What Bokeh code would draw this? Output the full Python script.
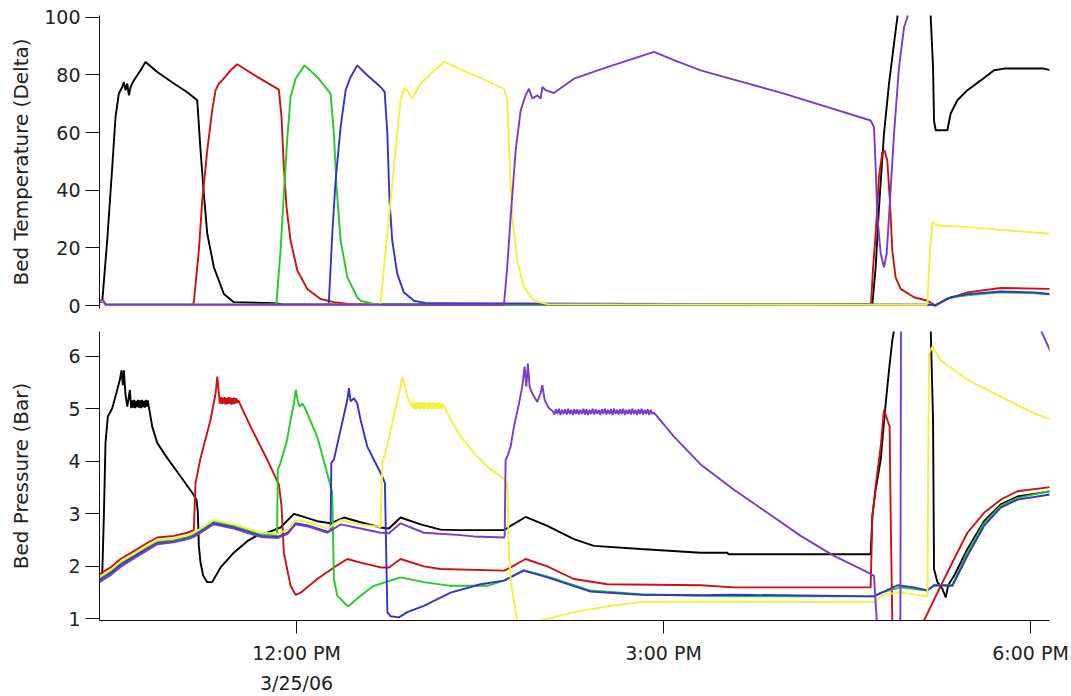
from bokeh.plotting import figure
from bokeh.layouts import column
from bokeh.models import Range1d, FixedTicker, LinearAxis
from bokeh.embed import file_html
from bokeh.resources import INLINE

# ---------------- data (time in decimal hours of 3/25/06) ----------------
x_ticks = [12, 15, 18]
x_tick_labels = {12: "12:00 PM", 15: "3:00 PM", 18: "6:00 PM"}
date_tick = [12]
date_label = {12: "3/25/06"}
temp_ticks = [0, 20, 40, 60, 80, 100]
pres_ticks = [1, 2, 3, 4, 5, 6]

# ---- Bed temperature (Delta) ----
black_temp_t = [10.389, 10.411, 10.452, 10.493, 10.520, 10.547, 10.575, 10.588, 10.602, 10.616,
                10.629, 10.643, 10.670, 10.725, 10.765, 10.861, 10.997, 11.106, 11.188, 11.215,
                11.242, 11.270, 11.324, 11.406, 11.487, 11.814, 11.900, 16.707, 16.734, 16.761,
                16.802, 16.843, 16.884, 16.912, 16.930, 17.180, 17.184, 17.203, 17.211, 17.225,
                17.320, 17.347, 17.402, 17.484, 17.593, 17.702, 17.783, 18.110, 18.165]
black_temp = [1.2, 1.2, 22.6, 48.0, 65.4, 73.5, 75.8, 77.5, 74.7, 77.0,
              72.9, 75.8, 78.1, 81.6, 84.5, 81.0, 77.0, 74.0, 71.2, 53.8,
              38.8, 24.9, 13.3, 4.0, 1.2, 0.8, 0.4, 0.4, 13.3, 34.0,
              59.6, 77.0, 90.9, 100.1, 140, 140, 100, 82.7, 64.0, 60.8,
              60.8, 66.6, 71.2, 74.7, 78.1, 81.6, 82.2, 82.2, 81.6]

red_temp_t = [10.389, 10.420, 10.440, 11.150, 11.160, 11.201, 11.229, 11.270, 11.310, 11.338,
              11.365, 11.392, 11.460, 11.515, 11.679, 11.855, 11.877, 11.896, 11.918, 11.951,
              12.006, 12.087, 12.196, 12.305, 12.442, 16.690, 16.697, 16.713, 16.734, 16.761,
              16.788, 16.807, 16.829, 16.850, 16.870, 16.897, 16.938, 17.047, 17.157, 17.225,
              17.320, 17.484, 17.756, 18.165]
red_temp = [1.5, 1.5, 0.3, 0.3, 1.2, 19.0, 36.5, 53.8, 67.7, 74.7,
            77.0, 78.1, 81.6, 83.7, 79.3, 74.9, 65.4, 48.0, 34.1, 22.6,
            12.2, 5.8, 2.3, 1.2, 0.5, 0.5, 1.2, 13.3, 25.0, 44.5,
            53.2, 53.8, 50.3, 36.5, 19.1, 9.8, 5.8, 2.9, 1.7, 0.0,
            2.3, 4.6, 6.1, 5.8]

green_temp_t = [10.389, 10.420, 10.440, 11.830, 11.836, 11.869, 11.896, 11.923, 11.951, 11.992,
                12.065, 12.169, 12.278, 12.305, 12.327, 12.360, 12.415, 12.496, 12.523, 12.630,
                17.200, 17.225, 17.320, 17.484, 17.756, 18.028, 18.165]
green_temp = [1.5, 1.5, 0.3, 0.3, 1.2, 19.1, 38.8, 57.3, 72.3, 78.7,
              83.3, 79.3, 73.5, 59.6, 41.1, 22.6, 9.8, 2.9, 1.7, 0.6,
              0.3, 0.0, 2.6, 3.6, 4.6, 4.3, 3.8]

blue_temp_t = [10.389, 10.420, 10.440, 12.260, 12.264, 12.292, 12.319, 12.360, 12.401, 12.442,
               12.496, 12.578, 12.687, 12.720, 12.742, 12.760, 12.782, 12.823, 12.877, 12.959,
               13.068, 17.200, 17.211, 17.347, 17.484, 17.756, 18.028, 18.165]
blue_temp = [1.5, 1.5, 0.3, 0.3, 1.2, 24.9, 43.4, 61.9, 74.7, 79.3,
             83.3, 79.9, 75.8, 74.1, 59.6, 36.5, 22.6, 11.0, 4.6, 1.7,
             0.8, 0.3, 0.0, 2.9, 4.0, 4.9, 4.6, 4.0]

yellow_temp_t = [10.389, 10.420, 10.440, 12.680, 12.687, 12.728, 12.769, 12.809, 12.850, 12.877,
                 12.905, 12.946, 13.014, 13.204, 13.450, 13.695, 13.722, 13.744, 13.763, 13.804,
                 13.858, 13.940, 14.050, 17.150, 17.157, 17.178, 17.198, 17.239, 17.484, 18.165]
yellow_temp = [1.5, 1.5, 0.3, 0.3, 1.2, 19.1, 36.5, 53.8, 71.2, 75.2,
               74.7, 71.8, 77.0, 84.5, 79.9, 75.2, 71.2, 48.0, 30.7, 15.6,
               6.4, 1.7, 0.5, 0.3, 1.2, 19.1, 28.9, 27.8, 27.2, 24.9]

purple_temp_t = [10.389, 10.420, 10.440, 13.690, 13.695, 13.722, 13.750, 13.791, 13.832, 13.872,
                 13.900, 13.927, 13.968, 13.995, 14.009, 14.036, 14.104, 14.267, 14.540, 14.922,
                 15.085, 15.303, 15.985, 16.693, 16.720, 16.734, 16.748, 16.775, 16.802, 16.824,
                 16.851, 16.884, 16.925, 16.966, 16.994, 17.010, 18.165]
purple_temp = [1.8, 1.8, 0.3, 0.3, 0.3, 13.3, 30.7, 53.8, 67.7, 72.9,
               75.2, 71.8, 72.9, 71.8, 75.8, 74.7, 73.7, 78.7, 82.7, 88.0,
               85.1, 81.6, 73.5, 64.2, 61.9, 48.0, 30.7, 18.0, 13.3, 18.0,
               36.5, 59.6, 82.7, 96.6, 100.0, 140, 140]

# ---- Bed pressure (Bar) ----
black_pres_t = [10.389, 10.411, 10.424, 10.438, 10.457, 10.493, 10.534, 10.555, 10.569, 10.580,
                10.588, 10.602, 10.616, 10.637, 10.648, 10.656, 10.664, 10.672, 10.680, 10.688,
                10.696, 10.704, 10.712, 10.720, 10.728, 10.736, 10.744, 10.752, 10.760, 10.768,
                10.776, 10.784, 10.792, 10.820, 10.861, 10.943, 11.052, 11.147, 11.182, 11.193,
                11.201, 11.215, 11.237, 11.270, 11.310, 11.379, 11.487, 11.597, 11.679, 11.760,
                11.869, 11.978, 12.033, 12.169, 12.278, 12.387, 12.523, 12.687, 12.755, 12.850,
                13.014, 13.177, 13.314, 13.695, 13.750, 13.872, 14.050, 14.267, 14.431, 14.813,
                15.303, 15.522, 15.530, 16.693, 16.707, 16.734, 16.775, 16.816, 16.843, 16.870,
                16.884, 16.900, 17.170, 17.184, 17.203, 17.211, 17.239, 17.280, 17.307, 17.326,
                17.342, 17.375, 17.484, 17.620, 17.756, 17.893, 18.165]
black_pres = [1.82, 1.82, 2.89, 4.35, 4.85, 5.01, 5.36, 5.55, 5.73, 5.45,
              5.73, 5.26, 5.04, 5.36, 5.01, 5.16, 5.02, 5.17, 5.01, 5.15,
              5.03, 5.17, 5.02, 5.16, 5.01, 5.17, 5.03, 5.15, 5.02, 5.17,
              5.04, 5.16, 5.04, 4.66, 4.35, 4.06, 3.71, 3.40, 3.27, 3.02,
              2.39, 2.07, 1.82, 1.70, 1.70, 1.98, 2.26, 2.48, 2.59, 2.64,
              2.74, 3.00, 2.96, 2.86, 2.82, 2.93, 2.84, 2.74, 2.72, 2.93,
              2.80, 2.70, 2.69, 2.69, 2.77, 2.94, 2.77, 2.52, 2.39, 2.33,
              2.26, 2.26, 2.23, 2.23, 2.96, 3.46, 4.03, 5.10, 5.73, 6.30,
              6.49, 8.0, 8.0, 6.5, 4.79, 1.95, 1.70, 1.57, 1.41, 1.63,
              1.70, 1.82, 2.33, 2.86, 3.18, 3.33, 3.43]

red_pres_t = [10.389, 10.479, 10.561, 10.670, 10.782, 10.861, 10.997, 11.106, 11.160, 11.174,
              11.215, 11.297, 11.338, 11.352, 11.365, 11.372, 11.380, 11.388, 11.396, 11.404,
              11.412, 11.420, 11.428, 11.436, 11.444, 11.452, 11.460, 11.468, 11.476, 11.484,
              11.492, 11.500, 11.508, 11.516, 11.524, 11.624, 11.760, 11.855, 11.877, 11.896,
              11.951, 11.992, 12.033, 12.169, 12.305, 12.415, 12.523, 12.687, 12.755, 12.850,
              13.041, 13.177, 13.695, 13.750, 13.872, 14.050, 14.267, 14.540, 15.303, 15.576,
              16.693, 16.707, 16.734, 16.775, 16.802, 16.829, 16.848, 16.857, 16.870, 16.880,
              17.120, 17.129, 17.266, 17.375, 17.484, 17.620, 17.756, 17.893, 18.165]
red_pres = [1.85, 1.98, 2.14, 2.29, 2.45, 2.55, 2.58, 2.64, 2.69, 3.59,
            4.06, 4.79, 5.29, 5.61, 5.29, 5.10, 5.22, 5.09, 5.21, 5.10,
            5.22, 5.08, 5.20, 5.09, 5.22, 5.10, 5.21, 5.08, 5.20, 5.09,
            5.21, 5.10, 5.20, 5.11, 5.16, 4.66, 4.03, 3.56, 3.15, 2.26,
            1.63, 1.46, 1.50, 1.76, 1.98, 2.14, 2.07, 1.98, 1.98, 2.14,
            2.00, 1.95, 1.92, 1.98, 2.14, 2.00, 1.76, 1.66, 1.64, 1.60,
            1.60, 2.96, 3.53, 4.28, 4.98, 4.79, 4.66, 2.89, 0.97, 0.50,
            0.50, 0.97, 1.63, 2.14, 2.64, 3.02, 3.27, 3.43, 3.51]

green_pres_t = [10.389, 10.479, 10.561, 10.670, 10.782, 10.861, 10.997, 11.106, 11.160, 11.215,
                11.321, 11.487, 11.706, 11.840, 11.847, 11.869, 11.923, 11.951, 11.978, 11.994,
                12.011, 12.027, 12.047, 12.065, 12.169, 12.278, 12.292, 12.305, 12.333, 12.415,
                12.428, 12.523, 12.632, 12.850, 13.041, 13.259, 13.559, 13.695, 13.858, 14.050,
                14.404, 14.813, 15.303, 15.576, 16.720, 16.775, 16.938, 17.157, 17.211, 17.361,
                17.372, 17.484, 17.620, 17.756, 17.893, 18.165]
green_pres = [1.77, 1.90, 2.06, 2.21, 2.37, 2.47, 2.50, 2.56, 2.61, 2.69,
              2.85, 2.77, 2.61, 2.59, 3.84, 3.97, 4.41, 4.79, 5.10, 5.36,
              5.14, 5.04, 5.10, 5.03, 4.47, 3.53, 3.40, 1.76, 1.44, 1.25,
              1.25, 1.44, 1.63, 1.79, 1.70, 1.63, 1.63, 1.73, 1.93, 1.81,
              1.54, 1.47, 1.44, 1.43, 1.43, 1.50, 1.60, 1.54, 1.64, 1.64,
              1.70, 2.26, 2.82, 3.15, 3.30, 3.44]

blue_pres_t = [10.389, 10.479, 10.561, 10.670, 10.782, 10.861, 10.997, 11.106, 11.160, 11.215,
               11.321, 11.487, 11.706, 11.845, 11.927, 11.992, 12.090, 12.253, 12.278, 12.284,
               12.305, 12.360, 12.415, 12.428, 12.442, 12.469, 12.496, 12.523, 12.578, 12.632,
               12.701, 12.722, 12.742, 12.769, 12.837, 12.905, 13.041, 13.259, 13.504, 13.695,
               13.858, 14.050, 14.404, 14.813, 15.303, 15.576, 16.720, 16.775, 16.912, 17.047,
               17.157, 17.211, 17.361, 17.484, 17.620, 17.756, 17.893, 18.165]
blue_pres = [1.74, 1.87, 2.03, 2.18, 2.34, 2.44, 2.47, 2.53, 2.58, 2.66,
             2.82, 2.74, 2.58, 2.56, 2.64, 2.82, 2.78, 2.66, 2.68, 3.97,
             4.03, 4.60, 5.17, 5.39, 5.14, 5.20, 5.10, 4.79, 4.28, 4.03,
             3.71, 3.59, 1.13, 1.05, 1.03, 1.13, 1.25, 1.50, 1.66, 1.73,
             1.92, 1.79, 1.52, 1.46, 1.45, 1.46, 1.43, 1.49, 1.64, 1.60,
             1.54, 1.64, 1.63, 2.20, 2.77, 3.12, 3.27, 3.37]

yellow_pres_t = [10.389, 10.479, 10.561, 10.670, 10.782, 10.861, 10.997, 11.106, 11.160, 11.215,
                 11.321, 11.487, 11.706, 11.845, 11.927, 11.992, 12.090, 12.253, 12.360, 12.523,
                 12.687, 12.701, 12.728, 12.796, 12.850, 12.864, 12.905, 12.946, 12.954, 12.962,
                 12.970, 12.978, 12.986, 12.994, 13.002, 13.010, 13.018, 13.026, 13.034, 13.042,
                 13.050, 13.058, 13.066, 13.074, 13.082, 13.090, 13.098, 13.106, 13.114, 13.122,
                 13.130, 13.138, 13.146, 13.154, 13.162, 13.170, 13.178, 13.186, 13.194, 13.204,
                 13.259, 13.341, 13.450, 13.559, 13.668, 13.723, 13.736, 13.750, 13.777, 13.804,
                 13.830, 13.980, 13.995, 14.267, 14.540, 14.813, 15.303, 16.720, 16.802, 16.938,
                 17.157, 17.170, 17.198, 17.266, 17.484, 17.756, 18.028, 18.165]
yellow_pres = [1.80, 1.93, 2.09, 2.24, 2.40, 2.50, 2.53, 2.59, 2.64, 2.72,
               2.88, 2.80, 2.64, 2.62, 2.70, 2.88, 2.84, 2.72, 2.88, 2.80,
               2.75, 3.97, 4.16, 4.88, 5.42, 5.61, 5.23, 5.03, 5.12, 5.00,
               5.11, 4.99, 5.12, 5.01, 5.11, 4.99, 5.12, 5.00, 5.11, 4.99,
               5.12, 5.01, 5.10, 4.99, 5.12, 5.00, 5.11, 4.99, 5.12, 5.01,
               5.10, 4.99, 5.11, 5.00, 5.12, 5.00, 5.10, 5.00, 5.09, 5.05,
               4.79, 4.47, 4.16, 3.90, 3.71, 3.59, 2.26, 1.76, 1.32, 0.97,
               0.50, 0.50, 0.97, 1.13, 1.24, 1.32, 1.33, 1.32, 1.47, 1.50,
               1.43, 6.05, 6.18, 5.92, 5.55, 5.23, 4.91, 4.79]

purple_pres_t = [10.389, 10.479, 10.561, 10.670, 10.782, 10.861, 10.997, 11.106, 11.160, 11.215,
                 11.321, 11.487, 11.706, 11.845, 11.927, 11.992, 12.090, 12.253, 12.360, 12.523,
                 12.687, 12.755, 12.850, 13.041, 13.314, 13.447, 13.695, 13.701, 13.709, 13.723,
                 13.750, 13.777, 13.818, 13.845, 13.864, 13.878, 13.891, 13.905, 13.927, 13.968,
                 13.995, 14.009, 14.028, 14.060,
                 14.095, 14.108, 14.120, 14.133, 14.145, 14.158, 14.170, 14.183, 14.195, 14.208,
                 14.220, 14.233, 14.245, 14.258, 14.270, 14.283, 14.295, 14.308, 14.320, 14.333,
                 14.345, 14.358, 14.370, 14.383, 14.395, 14.408, 14.420, 14.433, 14.445, 14.458,
                 14.470, 14.483, 14.495, 14.508, 14.520, 14.533, 14.545, 14.558, 14.570, 14.583,
                 14.595, 14.608, 14.620, 14.633, 14.645, 14.658, 14.670, 14.683, 14.695, 14.708,
                 14.720, 14.733, 14.745, 14.758, 14.770, 14.783, 14.795, 14.808, 14.820, 14.833,
                 14.845, 14.858, 14.870, 14.883, 14.895, 14.908, 14.920,
                 15.085, 15.303, 15.576, 15.849, 16.121, 16.393, 16.666, 16.720, 16.742, 16.760,
                 16.930, 16.936, 16.941, 16.950, 18.020, 18.083, 18.165]
purple_pres = [1.70, 1.83, 1.99, 2.15, 2.31, 2.42, 2.46, 2.52, 2.56, 2.64,
               2.80, 2.72, 2.56, 2.54, 2.62, 2.80, 2.76, 2.64, 2.80, 2.72,
               2.64, 2.63, 2.82, 2.64, 2.60, 2.57, 2.55, 2.58, 4.03, 4.09,
               4.28, 4.66, 5.10, 5.42, 5.80, 5.42, 5.86, 5.42, 5.29, 5.13,
               5.29, 5.45, 5.17, 5.02,
               4.95, 4.89, 4.99, 4.90, 5.00, 4.88, 4.98, 4.90, 4.99, 4.89,
               5.00, 4.90, 4.98, 4.88, 4.99, 4.90, 4.99, 4.89, 4.98, 4.90,
               5.00, 4.89, 4.99, 4.88, 4.98, 4.90, 5.00, 4.89, 4.99, 4.90,
               4.98, 4.88, 4.99, 4.90, 5.00, 4.89, 4.98, 4.90, 4.99, 4.88,
               5.00, 4.90, 4.98, 4.89, 4.99, 4.90, 5.00, 4.88, 4.98, 4.90,
               4.99, 4.89, 5.00, 4.90, 4.98, 4.88, 4.99, 4.90, 5.00, 4.89,
               4.98, 4.90, 4.99, 4.88, 4.98, 4.90, 4.93,
               4.47, 3.94, 3.46, 3.02, 2.58, 2.20, 1.89, 1.82, 1.00, 0.30,
               0.30, 0.97, 6.50, 8.00, 8.00, 6.50, 6.08]

series_colors = {
    "black": "#000000",
    "red": "#cc1111",
    "green": "#22cc22",
    "blue": "#3333cc",
    "yellow": "#f2f23c",
    "purple": "#7a3cc8",
}

temp_series = [
    ("black", black_temp_t, black_temp),
    ("red", red_temp_t, red_temp),
    ("green", green_temp_t, green_temp),
    ("blue", blue_temp_t, blue_temp),
    ("yellow", yellow_temp_t, yellow_temp),
    ("purple", purple_temp_t, purple_temp),
]
pres_series = [
    ("black", black_pres_t, black_pres),
    ("red", red_pres_t, red_pres),
    ("green", green_pres_t, green_pres),
    ("blue", blue_pres_t, blue_pres),
    ("yellow", yellow_pres_t, yellow_pres),
    ("purple", purple_pres_t, purple_pres),
]

# ---------------- figures ----------------
FONT = "DejaVu Sans"
TICK_FS = "19px"
LABEL_FS = "20px"
TEXT_COLOR = "#222222"
LINE_W = 1.9

x_range = Range1d(10.389, 18.155)


def style_y(p, ticks, label, standoff):
    ax = p.yaxis[0]
    ax.ticker = FixedTicker(ticks=ticks)
    ax.axis_label = label
    ax.axis_label_text_font = FONT
    ax.axis_label_text_font_size = LABEL_FS
    ax.axis_label_text_font_style = "normal"
    ax.axis_label_text_color = TEXT_COLOR
    ax.axis_label_standoff = standoff
    ax.major_label_text_font = FONT
    ax.major_label_text_font_size = TICK_FS
    ax.major_label_text_color = TEXT_COLOR
    ax.major_label_standoff = 5
    ax.major_tick_out = 14
    ax.major_tick_in = 0
    ax.minor_tick_line_color = None
    ax.axis_line_color = "#111111"
    ax.major_tick_line_color = "#111111"


common = dict(width=1071, output_backend="svg", toolbar_location=None,
              min_border_left=99, min_border_right=22, x_range=x_range)

p1 = figure(height=316, y_range=Range1d(-1.0, 100.6), x_axis_location=None,
            min_border_top=15, min_border_bottom=8, **common)
p2 = figure(height=380, y_range=Range1d(0.97, 6.47),
            min_border_top=15, min_border_bottom=74, **common)

for p in (p1, p2):
    p.xgrid.visible = False
    p.ygrid.visible = False
    p.outline_line_color = None
    p.background_fill_color = "white"
    p.border_fill_color = "white"

style_y(p1, temp_ticks, "Bed Temperature (Delta)", 8)
style_y(p2, pres_ticks, "Bed Pressure (Bar)", 32)

xa = p2.xaxis[0]
xa.ticker = FixedTicker(ticks=x_ticks)
xa.major_label_overrides = x_tick_labels
xa.major_label_text_font = FONT
xa.major_label_text_font_size = TICK_FS
xa.major_label_text_color = TEXT_COLOR
xa.major_label_standoff = 8
xa.major_tick_out = 13
xa.major_tick_in = 0
xa.minor_tick_line_color = None
xa.axis_line_color = "#111111"
xa.major_tick_line_color = "#111111"

date_axis = LinearAxis(ticker=FixedTicker(ticks=date_tick),
                       major_label_overrides=date_label,
                       axis_line_color=None, major_tick_line_color=None,
                       minor_tick_line_color=None, major_tick_out=0, major_tick_in=0,
                       major_label_standoff=5,
                       major_label_text_font=FONT, major_label_text_font_size=TICK_FS,
                       major_label_text_color=TEXT_COLOR)
p2.add_layout(date_axis, "below")

for name, t, v in temp_series:
    p1.line(t, v, line_color=series_colors[name], line_width=LINE_W)
for name, t, v in pres_series:
    p2.line(t, v, line_color=series_colors[name], line_width=LINE_W)

layout = column(p1, p2, spacing=0)
open("out.html", "w").write(file_html(layout, INLINE))
